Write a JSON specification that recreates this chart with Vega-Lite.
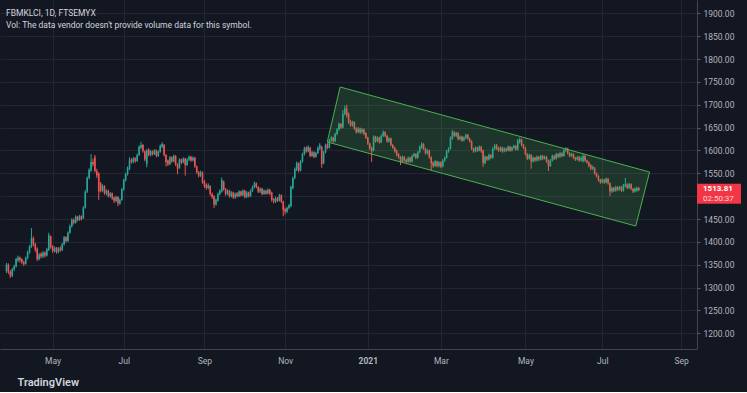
{
"$schema":"https://vega.github.io/schema/vega-lite/v6.json",
"width":697,"height":349,
"padding":{"left":0,"top":0,"right":4,"bottom":5},
"background":"#131722",
"config":{"view":{"stroke":null},"font":"Roboto","axis":{"labelFont":"Roboto","titleFont":"Roboto"}},
"title":{"text":"FBMKLCI, 1D, FTSEMYX","subtitle":"Vol: The data vendor doesn't provide volume data for this symbol.","anchor":"start","orient":"top","frame":"group","offset":-29,"dx":6,"fontSize":8.5,"subtitleFontSize":8.5,"font":"Roboto","subtitleFont":"Roboto","fontWeight":"normal","color":"#d1d4dc","subtitleColor":"#d1d4dc","subtitlePadding":3},
"datasets":{
"bars":[
{"i":0,"o":1336,"h":1354,"l":1332,"c":1350},{"i":1,"o":1350,"h":1353,"l":1330,"c":1335},{"i":2,"o":1335,"h":1338,"l":1321,"c":1326},{"i":3,"o":1326,"h":1343,"l":1323,"c":1340},{"i":4,"o":1340,"h":1350,"l":1336,"c":1346},
{"i":5,"o":1346,"h":1365,"l":1344,"c":1362},{"i":6,"o":1360,"h":1370,"l":1356,"c":1366},{"i":7,"o":1366,"h":1368,"l":1355,"c":1360},{"i":8,"o":1362,"h":1364,"l":1351,"c":1355},{"i":9,"o":1356,"h":1359,"l":1347,"c":1352},
{"i":10,"o":1352,"h":1368,"l":1350,"c":1365},{"i":11,"o":1365,"h":1381,"l":1362,"c":1377},{"i":12,"o":1377,"h":1393,"l":1374,"c":1390},{"i":13,"o":1390,"h":1430,"l":1387,"c":1408},{"i":14,"o":1408,"h":1412,"l":1390,"c":1395},
{"i":15,"o":1395,"h":1398,"l":1378,"c":1383},{"i":16,"o":1385,"h":1388,"l":1358,"c":1362},{"i":17,"o":1362,"h":1376,"l":1360,"c":1372},{"i":18,"o":1374,"h":1377,"l":1364,"c":1368},{"i":19,"o":1368,"h":1380,"l":1365,"c":1376},
{"i":20,"o":1377,"h":1379,"l":1366,"c":1370},{"i":21,"o":1370,"h":1387,"l":1368,"c":1384},{"i":22,"o":1382,"h":1420,"l":1380,"c":1415},{"i":23,"o":1412,"h":1414,"l":1385,"c":1388},{"i":24,"o":1390,"h":1393,"l":1376,"c":1380},
{"i":25,"o":1380,"h":1390,"l":1377,"c":1387},{"i":26,"o":1387,"h":1389,"l":1374,"c":1378},{"i":27,"o":1378,"h":1389,"l":1375,"c":1386},{"i":28,"o":1386,"h":1390,"l":1378,"c":1382},{"i":29,"o":1382,"h":1398,"l":1380,"c":1395},
{"i":30,"o":1395,"h":1413,"l":1392,"c":1410},{"i":31,"o":1410,"h":1412,"l":1398,"c":1402},{"i":32,"o":1402,"h":1423,"l":1400,"c":1420},{"i":33,"o":1420,"h":1438,"l":1418,"c":1434},{"i":34,"o":1434,"h":1452,"l":1431,"c":1448},
{"i":35,"o":1448,"h":1451,"l":1438,"c":1442},{"i":36,"o":1442,"h":1458,"l":1440,"c":1455},{"i":37,"o":1455,"h":1457,"l":1445,"c":1448},{"i":38,"o":1448,"h":1459,"l":1446,"c":1456},{"i":39,"o":1456,"h":1458,"l":1447,"c":1450},
{"i":40,"o":1452,"h":1478,"l":1450,"c":1475},{"i":41,"o":1475,"h":1513,"l":1473,"c":1510},{"i":42,"o":1510,"h":1543,"l":1507,"c":1540},{"i":43,"o":1540,"h":1561,"l":1537,"c":1558},{"i":44,"o":1556,"h":1592,"l":1553,"c":1575},
{"i":45,"o":1575,"h":1582,"l":1565,"c":1570},{"i":46,"o":1585,"h":1590,"l":1552,"c":1555},{"i":47,"o":1555,"h":1560,"l":1540,"c":1545},{"i":48,"o":1550,"h":1552,"l":1492,"c":1510},{"i":49,"o":1528,"h":1531,"l":1508,"c":1512},
{"i":50,"o":1512,"h":1526,"l":1509,"c":1522},{"i":51,"o":1522,"h":1524,"l":1503,"c":1506},{"i":52,"o":1506,"h":1515,"l":1502,"c":1512},{"i":53,"o":1512,"h":1514,"l":1497,"c":1500},{"i":54,"o":1500,"h":1509,"l":1497,"c":1506},
{"i":55,"o":1506,"h":1508,"l":1492,"c":1495},{"i":56,"o":1497,"h":1499,"l":1485,"c":1490},{"i":57,"o":1490,"h":1501,"l":1487,"c":1498},{"i":58,"o":1498,"h":1500,"l":1478,"c":1484},{"i":59,"o":1484,"h":1495,"l":1481,"c":1492},
{"i":60,"o":1492,"h":1518,"l":1490,"c":1515},{"i":61,"o":1515,"h":1538,"l":1512,"c":1535},{"i":62,"o":1535,"h":1551,"l":1532,"c":1548},{"i":63,"o":1548,"h":1565,"l":1545,"c":1562},{"i":64,"o":1560,"h":1585,"l":1557,"c":1578},
{"i":65,"o":1580,"h":1583,"l":1571,"c":1575},{"i":66,"o":1575,"h":1586,"l":1572,"c":1582},{"i":67,"o":1583,"h":1585,"l":1573,"c":1577},{"i":68,"o":1577,"h":1593,"l":1575,"c":1590},{"i":69,"o":1590,"h":1611,"l":1588,"c":1608},
{"i":70,"o":1606,"h":1619,"l":1603,"c":1612},{"i":71,"o":1612,"h":1614,"l":1595,"c":1598},{"i":72,"o":1598,"h":1600,"l":1576,"c":1580},{"i":73,"o":1570,"h":1603,"l":1563,"c":1600},{"i":74,"o":1602,"h":1605,"l":1587,"c":1590},
{"i":75,"o":1590,"h":1601,"l":1587,"c":1598},{"i":76,"o":1598,"h":1600,"l":1589,"c":1592},{"i":77,"o":1592,"h":1603,"l":1590,"c":1600},{"i":78,"o":1600,"h":1602,"l":1585,"c":1588},{"i":79,"o":1588,"h":1600,"l":1586,"c":1597},
{"i":80,"o":1597,"h":1613,"l":1595,"c":1610},{"i":81,"o":1608,"h":1618,"l":1605,"c":1614},{"i":82,"o":1612,"h":1614,"l":1587,"c":1590},{"i":83,"o":1590,"h":1592,"l":1565,"c":1575},{"i":84,"o":1578,"h":1580,"l":1566,"c":1570},
{"i":85,"o":1570,"h":1588,"l":1568,"c":1585},{"i":86,"o":1585,"h":1587,"l":1573,"c":1576},{"i":87,"o":1576,"h":1591,"l":1574,"c":1588},{"i":88,"o":1588,"h":1590,"l":1566,"c":1570},{"i":89,"o":1570,"h":1572,"l":1548,"c":1560},
{"i":90,"o":1562,"h":1583,"l":1560,"c":1580},{"i":91,"o":1580,"h":1582,"l":1570,"c":1574},{"i":92,"o":1574,"h":1585,"l":1572,"c":1582},{"i":93,"o":1582,"h":1584,"l":1545,"c":1568},{"i":94,"o":1568,"h":1583,"l":1566,"c":1580},
{"i":95,"o":1580,"h":1589,"l":1577,"c":1586},{"i":96,"o":1586,"h":1588,"l":1575,"c":1578},{"i":97,"o":1578,"h":1587,"l":1576,"c":1584},{"i":98,"o":1584,"h":1586,"l":1562,"c":1565},{"i":99,"o":1565,"h":1567,"l":1549,"c":1552},
{"i":100,"o":1552,"h":1555,"l":1541,"c":1545},{"i":101,"o":1545,"h":1556,"l":1542,"c":1552},{"i":102,"o":1552,"h":1554,"l":1527,"c":1530},{"i":103,"o":1532,"h":1535,"l":1518,"c":1522},{"i":104,"o":1525,"h":1528,"l":1514,"c":1518},
{"i":105,"o":1518,"h":1528,"l":1515,"c":1524},{"i":106,"o":1522,"h":1524,"l":1501,"c":1505},{"i":107,"o":1505,"h":1508,"l":1494,"c":1498},{"i":108,"o":1500,"h":1502,"l":1474,"c":1482},{"i":109,"o":1482,"h":1495,"l":1479,"c":1492},
{"i":110,"o":1490,"h":1508,"l":1488,"c":1505},{"i":111,"o":1505,"h":1515,"l":1502,"c":1512},{"i":112,"o":1510,"h":1541,"l":1508,"c":1535},{"i":113,"o":1532,"h":1534,"l":1512,"c":1515},{"i":114,"o":1515,"h":1518,"l":1501,"c":1505},
{"i":115,"o":1505,"h":1515,"l":1502,"c":1512},{"i":116,"o":1512,"h":1514,"l":1497,"c":1500},{"i":117,"o":1500,"h":1511,"l":1497,"c":1508},{"i":118,"o":1508,"h":1510,"l":1494,"c":1497},{"i":119,"o":1497,"h":1508,"l":1494,"c":1505},
{"i":120,"o":1506,"h":1509,"l":1497,"c":1500},{"i":121,"o":1500,"h":1513,"l":1498,"c":1510},{"i":122,"o":1510,"h":1512,"l":1499,"c":1502},{"i":123,"o":1502,"h":1515,"l":1500,"c":1512},{"i":124,"o":1512,"h":1514,"l":1495,"c":1498},
{"i":125,"o":1498,"h":1511,"l":1496,"c":1508},{"i":126,"o":1508,"h":1510,"l":1497,"c":1500},{"i":127,"o":1500,"h":1515,"l":1498,"c":1512},{"i":128,"o":1512,"h":1523,"l":1509,"c":1520},{"i":129,"o":1520,"h":1532,"l":1517,"c":1528},
{"i":130,"o":1528,"h":1530,"l":1517,"c":1520},{"i":131,"o":1520,"h":1522,"l":1507,"c":1510},{"i":132,"o":1510,"h":1519,"l":1507,"c":1516},{"i":133,"o":1516,"h":1518,"l":1502,"c":1505},{"i":134,"o":1505,"h":1515,"l":1503,"c":1512},
{"i":135,"o":1512,"h":1514,"l":1503,"c":1506},{"i":136,"o":1506,"h":1517,"l":1504,"c":1514},{"i":137,"o":1514,"h":1516,"l":1502,"c":1505},{"i":138,"o":1508,"h":1510,"l":1488,"c":1492},{"i":139,"o":1494,"h":1496,"l":1484,"c":1488},
{"i":140,"o":1488,"h":1499,"l":1485,"c":1496},{"i":141,"o":1496,"h":1498,"l":1487,"c":1490},{"i":142,"o":1490,"h":1505,"l":1488,"c":1502},{"i":143,"o":1502,"h":1504,"l":1485,"c":1488},{"i":144,"o":1488,"h":1490,"l":1456,"c":1470},
{"i":145,"o":1472,"h":1475,"l":1460,"c":1466},{"i":146,"o":1466,"h":1477,"l":1463,"c":1474},{"i":147,"o":1474,"h":1483,"l":1471,"c":1480},{"i":148,"o":1478,"h":1523,"l":1476,"c":1520},{"i":149,"o":1518,"h":1543,"l":1515,"c":1540},
{"i":150,"o":1540,"h":1563,"l":1537,"c":1560},{"i":151,"o":1558,"h":1576,"l":1555,"c":1572},{"i":152,"o":1572,"h":1574,"l":1552,"c":1556},{"i":153,"o":1556,"h":1579,"l":1554,"c":1576},{"i":154,"o":1576,"h":1595,"l":1573,"c":1592},
{"i":155,"o":1592,"h":1608,"l":1589,"c":1604},{"i":156,"o":1606,"h":1609,"l":1595,"c":1598},{"i":157,"o":1598,"h":1611,"l":1596,"c":1608},{"i":158,"o":1606,"h":1608,"l":1585,"c":1588},{"i":159,"o":1588,"h":1599,"l":1586,"c":1596},
{"i":160,"o":1596,"h":1598,"l":1583,"c":1586},{"i":161,"o":1586,"h":1597,"l":1584,"c":1594},{"i":162,"o":1594,"h":1609,"l":1592,"c":1606},{"i":163,"o":1604,"h":1616,"l":1601,"c":1612},{"i":164,"o":1608,"h":1610,"l":1562,"c":1570},
{"i":165,"o":1572,"h":1599,"l":1570,"c":1596},{"i":166,"o":1596,"h":1615,"l":1594,"c":1612},{"i":167,"o":1614,"h":1617,"l":1603,"c":1606},{"i":168,"o":1606,"h":1625,"l":1604,"c":1622},{"i":169,"o":1622,"h":1632,"l":1619,"c":1628},
{"i":170,"o":1628,"h":1630,"l":1617,"c":1620},{"i":171,"o":1620,"h":1639,"l":1618,"c":1636},{"i":172,"o":1636,"h":1649,"l":1633,"c":1646},{"i":173,"o":1646,"h":1661,"l":1643,"c":1658},{"i":174,"o":1658,"h":1660,"l":1647,"c":1650},
{"i":175,"o":1650,"h":1688,"l":1648,"c":1680},{"i":176,"o":1680,"h":1698,"l":1677,"c":1692},{"i":177,"o":1692,"h":1700,"l":1672,"c":1676},{"i":178,"o":1680,"h":1683,"l":1658,"c":1662},{"i":179,"o":1664,"h":1667,"l":1652,"c":1655},
{"i":180,"o":1655,"h":1665,"l":1652,"c":1662},{"i":181,"o":1662,"h":1664,"l":1645,"c":1648},{"i":182,"o":1648,"h":1651,"l":1637,"c":1640},{"i":183,"o":1640,"h":1651,"l":1638,"c":1648},{"i":184,"o":1648,"h":1650,"l":1636,"c":1640},
{"i":185,"o":1640,"h":1649,"l":1637,"c":1646},{"i":186,"o":1646,"h":1648,"l":1633,"c":1636},{"i":187,"o":1638,"h":1640,"l":1625,"c":1628},{"i":188,"o":1628,"h":1630,"l":1612,"c":1615},{"i":189,"o":1615,"h":1617,"l":1601,"c":1605},
{"i":190,"o":1606,"h":1608,"l":1575,"c":1598},{"i":191,"o":1600,"h":1633,"l":1598,"c":1630},{"i":192,"o":1630,"h":1632,"l":1617,"c":1620},{"i":193,"o":1620,"h":1631,"l":1618,"c":1628},{"i":194,"o":1628,"h":1630,"l":1615,"c":1618},
{"i":195,"o":1618,"h":1635,"l":1616,"c":1632},{"i":196,"o":1632,"h":1644,"l":1629,"c":1640},{"i":197,"o":1640,"h":1642,"l":1629,"c":1632},{"i":198,"o":1632,"h":1634,"l":1617,"c":1620},{"i":199,"o":1620,"h":1629,"l":1617,"c":1626},
{"i":200,"o":1626,"h":1628,"l":1609,"c":1612},{"i":201,"o":1612,"h":1614,"l":1603,"c":1606},{"i":202,"o":1606,"h":1608,"l":1595,"c":1598},{"i":203,"o":1600,"h":1602,"l":1587,"c":1590},{"i":204,"o":1592,"h":1594,"l":1582,"c":1585},
{"i":205,"o":1586,"h":1588,"l":1568,"c":1575},{"i":206,"o":1575,"h":1589,"l":1573,"c":1586},{"i":207,"o":1586,"h":1588,"l":1575,"c":1578},{"i":208,"o":1580,"h":1582,"l":1571,"c":1575},{"i":209,"o":1575,"h":1587,"l":1573,"c":1584},
{"i":210,"o":1584,"h":1586,"l":1573,"c":1576},{"i":211,"o":1576,"h":1591,"l":1574,"c":1588},{"i":212,"o":1588,"h":1595,"l":1585,"c":1592},{"i":213,"o":1592,"h":1594,"l":1581,"c":1584},{"i":214,"o":1584,"h":1599,"l":1582,"c":1596},
{"i":215,"o":1596,"h":1611,"l":1594,"c":1608},{"i":216,"o":1606,"h":1618,"l":1603,"c":1614},{"i":217,"o":1614,"h":1616,"l":1601,"c":1604},{"i":218,"o":1604,"h":1606,"l":1591,"c":1594},{"i":219,"o":1594,"h":1603,"l":1591,"c":1600},
{"i":220,"o":1600,"h":1602,"l":1582,"c":1585},{"i":221,"o":1585,"h":1587,"l":1557,"c":1572},{"i":222,"o":1574,"h":1576,"l":1562,"c":1566},{"i":223,"o":1566,"h":1579,"l":1564,"c":1576},{"i":224,"o":1576,"h":1578,"l":1563,"c":1566},
{"i":225,"o":1566,"h":1577,"l":1563,"c":1574},{"i":226,"o":1574,"h":1576,"l":1561,"c":1565},{"i":227,"o":1565,"h":1581,"l":1563,"c":1578},{"i":228,"o":1578,"h":1587,"l":1575,"c":1584},{"i":229,"o":1584,"h":1601,"l":1582,"c":1598},
{"i":230,"o":1598,"h":1607,"l":1595,"c":1604},{"i":231,"o":1604,"h":1631,"l":1602,"c":1628},{"i":232,"o":1626,"h":1645,"l":1623,"c":1640},{"i":233,"o":1640,"h":1642,"l":1629,"c":1632},{"i":234,"o":1632,"h":1641,"l":1629,"c":1638},
{"i":235,"o":1638,"h":1640,"l":1622,"c":1625},{"i":236,"o":1625,"h":1633,"l":1622,"c":1630},{"i":237,"o":1630,"h":1632,"l":1619,"c":1622},{"i":238,"o":1622,"h":1631,"l":1620,"c":1628},{"i":239,"o":1628,"h":1637,"l":1625,"c":1634},
{"i":240,"o":1634,"h":1636,"l":1623,"c":1626},{"i":241,"o":1626,"h":1628,"l":1617,"c":1620},{"i":242,"o":1620,"h":1622,"l":1601,"c":1604},{"i":243,"o":1604,"h":1606,"l":1595,"c":1598},{"i":244,"o":1598,"h":1609,"l":1596,"c":1606},
{"i":245,"o":1606,"h":1608,"l":1597,"c":1600},{"i":246,"o":1600,"h":1611,"l":1598,"c":1608},{"i":247,"o":1608,"h":1610,"l":1595,"c":1598},{"i":248,"o":1600,"h":1602,"l":1564,"c":1572},{"i":249,"o":1572,"h":1589,"l":1570,"c":1586},
{"i":250,"o":1586,"h":1588,"l":1577,"c":1580},{"i":251,"o":1580,"h":1593,"l":1578,"c":1590},{"i":252,"o":1590,"h":1592,"l":1581,"c":1584},{"i":253,"o":1584,"h":1607,"l":1582,"c":1604},{"i":254,"o":1604,"h":1614,"l":1601,"c":1610},
{"i":255,"o":1612,"h":1614,"l":1601,"c":1604},{"i":256,"o":1606,"h":1608,"l":1597,"c":1600},{"i":257,"o":1600,"h":1609,"l":1597,"c":1606},{"i":258,"o":1606,"h":1608,"l":1595,"c":1598},{"i":259,"o":1598,"h":1607,"l":1596,"c":1604},
{"i":260,"o":1604,"h":1606,"l":1597,"c":1600},{"i":261,"o":1600,"h":1611,"l":1598,"c":1608},{"i":262,"o":1608,"h":1610,"l":1597,"c":1600},{"i":263,"o":1600,"h":1609,"l":1598,"c":1606},{"i":264,"o":1606,"h":1613,"l":1603,"c":1610},
{"i":265,"o":1610,"h":1612,"l":1599,"c":1602},{"i":266,"o":1602,"h":1625,"l":1600,"c":1622},{"i":267,"o":1618,"h":1628,"l":1615,"c":1624},{"i":268,"o":1624,"h":1626,"l":1609,"c":1612},{"i":269,"o":1612,"h":1614,"l":1603,"c":1606},
{"i":270,"o":1606,"h":1608,"l":1589,"c":1592},{"i":271,"o":1592,"h":1594,"l":1579,"c":1582},{"i":272,"o":1582,"h":1593,"l":1580,"c":1590},{"i":273,"o":1590,"h":1592,"l":1560,"c":1576},{"i":274,"o":1576,"h":1587,"l":1574,"c":1584},
{"i":275,"o":1584,"h":1586,"l":1575,"c":1578},{"i":276,"o":1578,"h":1589,"l":1576,"c":1586},{"i":277,"o":1586,"h":1588,"l":1577,"c":1580},{"i":278,"o":1580,"h":1591,"l":1578,"c":1588},{"i":279,"o":1588,"h":1590,"l":1579,"c":1582},
{"i":280,"o":1582,"h":1589,"l":1580,"c":1586},{"i":281,"o":1586,"h":1588,"l":1573,"c":1576},{"i":282,"o":1578,"h":1580,"l":1555,"c":1566},{"i":283,"o":1566,"h":1581,"l":1564,"c":1578},{"i":284,"o":1578,"h":1591,"l":1576,"c":1588},
{"i":285,"o":1588,"h":1590,"l":1579,"c":1582},{"i":286,"o":1582,"h":1595,"l":1580,"c":1592},{"i":287,"o":1592,"h":1594,"l":1583,"c":1586},{"i":288,"o":1586,"h":1597,"l":1584,"c":1594},{"i":289,"o":1594,"h":1596,"l":1585,"c":1588},
{"i":290,"o":1588,"h":1603,"l":1586,"c":1600},{"i":291,"o":1600,"h":1607,"l":1597,"c":1604},{"i":292,"o":1604,"h":1606,"l":1591,"c":1594},{"i":293,"o":1594,"h":1596,"l":1585,"c":1588},{"i":294,"o":1588,"h":1595,"l":1586,"c":1592},
{"i":295,"o":1592,"h":1594,"l":1581,"c":1584},{"i":296,"o":1584,"h":1586,"l":1577,"c":1580},{"i":297,"o":1580,"h":1588,"l":1578,"c":1585},{"i":298,"o":1586,"h":1588,"l":1575,"c":1578},{"i":299,"o":1578,"h":1587,"l":1576,"c":1584},
{"i":300,"o":1576,"h":1592,"l":1574,"c":1588},{"i":301,"o":1588,"h":1590,"l":1575,"c":1578},{"i":302,"o":1578,"h":1580,"l":1571,"c":1574},{"i":303,"o":1574,"h":1576,"l":1563,"c":1566},{"i":304,"o":1568,"h":1570,"l":1557,"c":1560},
{"i":305,"o":1560,"h":1567,"l":1557,"c":1564},{"i":306,"o":1562,"h":1564,"l":1547,"c":1550},{"i":307,"o":1550,"h":1552,"l":1541,"c":1544},{"i":308,"o":1544,"h":1546,"l":1532,"c":1535},{"i":309,"o":1536,"h":1538,"l":1527,"c":1530},
{"i":310,"o":1530,"h":1539,"l":1528,"c":1536},{"i":311,"o":1536,"h":1538,"l":1527,"c":1530},{"i":312,"o":1530,"h":1541,"l":1528,"c":1538},{"i":313,"o":1538,"h":1540,"l":1525,"c":1528},{"i":314,"o":1528,"h":1530,"l":1500,"c":1510},
{"i":315,"o":1510,"h":1521,"l":1507,"c":1518},{"i":316,"o":1518,"h":1520,"l":1509,"c":1512},{"i":317,"o":1512,"h":1523,"l":1510,"c":1520},{"i":318,"o":1520,"h":1522,"l":1511,"c":1514},{"i":319,"o":1514,"h":1523,"l":1512,"c":1520},
{"i":320,"o":1520,"h":1522,"l":1509,"c":1512},{"i":321,"o":1512,"h":1527,"l":1510,"c":1524},{"i":322,"o":1522,"h":1540,"l":1519,"c":1526},{"i":323,"o":1526,"h":1528,"l":1515,"c":1518},{"i":324,"o":1518,"h":1529,"l":1516,"c":1526},
{"i":325,"o":1526,"h":1528,"l":1513,"c":1516},{"i":326,"o":1516,"h":1518,"l":1507,"c":1510},{"i":327,"o":1510,"h":1519,"l":1508,"c":1516},{"i":328,"o":1512,"h":1521,"l":1510,"c":1518},{"i":329,"o":1518,"h":1520,"l":1511,"c":1513.81}
],
"chanArea":[{"ci":166.9,"top":1618.5,"bot":1618.5},{"ci":173.6,"top":1738.8,"bot":1610.8},{"ci":327.4,"top":1561.1,"bot":1434.7},{"ci":334.6,"top":1552.8,"bot":1552.8}],
"chanLine":[{"k":0,"ci":166.9,"p":1618.5},{"k":1,"ci":173.6,"p":1738.8},{"k":2,"ci":334.6,"p":1552.8},{"k":3,"ci":327.4,"p":1434.7},{"k":4,"ci":166.9,"p":1618.5}],
"last":[{"p":1513.81,"t1":"1513.81","t2":"02:50:37"}]
},
"layer":[
{"data":{"name":"bars"},"mark":{"type":"rule","strokeWidth":1},
 "encoding":{
  "x":{"field":"i","type":"quantitative","scale":{"domain":[-0.77,356.67],"nice":false,"zero":false},
   "axis":{"orient":"bottom","values":[24,61,103,145,188,226,270,310,351],"tickCount":30,
    "labelExpr":"datum.value==24?'May':datum.value==61?'Jul':datum.value==103?'Sep':datum.value==145?'Nov':datum.value==188?'2021':datum.value==226?'Mar':datum.value==270?'May':datum.value==310?'Jul':'Sep'",
    "labelFontWeight":{"condition":{"test":"datum.value==188","value":"bold"},"value":"normal"},
    "ticks":false,"tickSize":0,"labelPadding":7,"labelFontSize":8.5,"labelColor":"#b2b5be","labelFlush":false,"labelOverlap":false,
    "domainColor":"#434651","gridColor":"#232733","grid":true,
    "title":"TradingView","titleX":17,"titleY":33,"titleAlign":"left","titleAnchor":"start","titleBaseline":"middle","titleFontSize":11,"titleFontWeight":600,"titleColor":"#d1d4dc"}},
  "y":{"field":"l","type":"quantitative","scale":{"domain":[1165.7,1929.1],"nice":false,"zero":false},
   "axis":{"orient":"right","values":[1200,1250,1300,1350,1400,1450,1500,1550,1600,1650,1700,1750,1800,1850,1900],"tickCount":30,"format":".2f","labelExpr":"datum.value==1500?'':datum.label","title":null,"labelOverlap":false,
    "labelFontSize":8.5,"labelColor":"#b2b5be","labelPadding":3,"labelAlign":"left","tickSize":3,"tickColor":"#5d606b","domainColor":"#434651","gridColor":"#232733","grid":true,"minExtent":46,"maxExtent":46}},
  "y2":{"field":"h"},
  "color":{"condition":{"test":"datum.c >= datum.o","value":"#26a69a"},"value":"#ef5350"}
 }},
{"data":{"name":"bars"},"mark":{"type":"bar","width":1.6},
 "encoding":{
  "x":{"field":"i","type":"quantitative","scale":{"domain":[-0.77,356.67],"nice":false,"zero":false}},
  "y":{"field":"o","type":"quantitative","scale":{"domain":[1165.7,1929.1],"nice":false,"zero":false}},
  "y2":{"field":"c"},
  "color":{"condition":{"test":"datum.c >= datum.o","value":"#26a69a"},"value":"#ef5350"}
 }},
{"data":{"name":"chanArea"},"mark":{"type":"area","orient":"vertical","color":"#4caf50","fillOpacity":0.2},
 "encoding":{
  "x":{"field":"ci","type":"quantitative","scale":{"domain":[-0.77,356.67],"nice":false,"zero":false}},
  "y":{"field":"top","type":"quantitative","scale":{"domain":[1165.7,1929.1],"nice":false,"zero":false}},
  "y2":{"field":"bot"}
 }},
{"data":{"name":"chanLine"},"mark":{"type":"line","color":"#4caf50","strokeWidth":1},
 "encoding":{
  "x":{"field":"ci","type":"quantitative","scale":{"domain":[-0.77,356.67],"nice":false,"zero":false}},
  "y":{"field":"p","type":"quantitative","scale":{"domain":[1165.7,1929.1],"nice":false,"zero":false}},
  "order":{"field":"k"}
 }},
{"data":{"name":"last"},"mark":{"type":"rect","color":"#f23645","x2Offset":44,"yOffset":-6,"y2Offset":14},
 "encoding":{
  "x":{"value":"width"},"x2":{"value":"width"},
  "y":{"field":"p","type":"quantitative","scale":{"domain":[1165.7,1929.1],"nice":false,"zero":false}},
  "y2":{"field":"p"}
 }},
{"data":{"name":"last"},"mark":{"type":"text","align":"left","baseline":"middle","dx":6,"dy":-0.5,"fontSize":8,"fontWeight":"bold","color":"#ffffff"},
 "encoding":{
  "x":{"value":"width"},
  "y":{"field":"p","type":"quantitative","scale":{"domain":[1165.7,1929.1],"nice":false,"zero":false}},
  "text":{"field":"t1"}
 }},
{"data":{"name":"last"},"mark":{"type":"text","align":"left","baseline":"middle","dx":6,"dy":9.5,"fontSize":8,"color":"#fbd5d8"},
 "encoding":{
  "x":{"value":"width"},
  "y":{"field":"p","type":"quantitative","scale":{"domain":[1165.7,1929.1],"nice":false,"zero":false}},
  "text":{"field":"t2"}
 }}
]
}
